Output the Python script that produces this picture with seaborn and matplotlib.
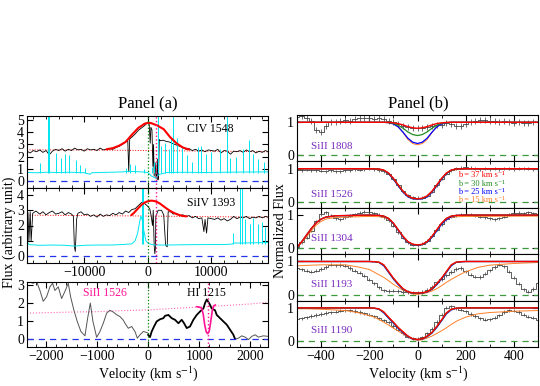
"""
Two-panel absorption line figure: (a) broad CIV / SiIV / HI spectra,
(b) SiII profiles with Voigt models for several b values.
"""
import numpy as np
import seaborn as sns
import matplotlib
matplotlib.use('Agg')
import matplotlib.pyplot as plt
from matplotlib.ticker import MultipleLocator

# ---------------- Panel (a) data ----------------
# CIV 1548 (top)
civ_v = [-19000, -18500, -18000, -17500, -17000, -16500, -16000, -15500, -15000, -14500,
         -14000, -13500, -13000, -12500, -12000, -11500, -11000, -10500, -10000, -9500,
         -9000, -8500, -8000, -7500, -7000, -6500, -6000, -5500, -5000, -4500,
         -4000, -3500, -3150, -3000, -2850, -2500, -2000, -1500, -1000, -500,
         -200, 200, 380, 480, 650, 800, 900, 1000, 1150, 1300,
         1400, 1500, 1600, 1700, 1800, 2000, 2400, 2900, 3400, 4000,
         4500, 5000, 5500, 6000, 6500, 7000, 7500, 8000, 8500, 9000,
         9500, 10000, 10500, 11000, 11500, 12000, 12500, 13000, 13500, 14000,
         14500, 15000, 15500, 16000, 16500, 17000, 17500, 18000, 18500, 18900]
civ_f = [2.45, 2.3, 2.5, 2.4, 2.55, 2.35, 2.5, 2.15, 2.45, 2.6,
         2.5, 2.65, 2.45, 2.6, 2.5, 2.7, 2.55, 2.6, 2.45, 2.65,
         2.55, 2.6, 2.5, 2.7, 2.55, 2.6, 2.65, 2.6, 2.75, 2.85,
         3.0, 3.2, 3.3, 0.75, 3.45, 3.6, 3.85, 4.15, 4.35, 4.55,
         4.7, 4.8, 3.1, 4.4, 4.2, 1.2, 3.0, 0.4, 1.5, 0.2,
         0.5, 1.8, 0.1, 0.6, 3.4, 3.3, 3.35, 3.25, 3.2, 3.05,
         2.95, 2.85, 2.75, 2.6, 2.65, 2.5, 2.6, 2.45, 2.55, 2.4,
         2.55, 2.5, 2.45, 2.6, 2.3, 2.5, 2.45, 2.2, 2.45, 2.4,
         2.5, 2.35, 2.55, 2.4, 2.5, 2.3, 2.45, 2.35, 2.5, 2.4]
civ_fit_v = [-6500, -5500, -4500, -3500, -2500, -1500, -500, 0, 500, 1500, 2500, 3500, 4500, 5500, 6500]
civ_fit_f = [2.6, 2.7, 2.9, 3.2, 3.8, 4.35, 4.7, 4.77, 4.75, 4.55, 4.25, 3.6, 3.1, 2.75, 2.58]
civ_cont_v = [-19000, -10000, 0, 10000, 18900]
civ_cont_f = [2.55, 2.55, 2.5, 2.45, 2.4]
civ_err_v = [-19000, -17500, -16000, -14000, -12000, -10000, -9400, -9100, -8800, -6000, -4000, -3000,
             -1000, 0, 600, 1200, 1800, 3000, 6000, 9000, 12000, 15000, 18900]
civ_err_f = [0.7, 0.68, 0.72, 0.7, 0.72, 0.68, 0.6, 0.55, 0.68, 0.72, 0.75, 0.8,
             0.75, 0.7, 0.4, 0.25, 0.55, 0.7, 0.72, 0.7, 0.72, 0.74, 0.75]
civ_spk_v = [-16900, -15650, -15500, -14500, -13600, -13050, -12450, -11350, -10700, -9900,
             -3400, -2800, -2050, -600, 600, 1000, 1650, 2150, 2700, 3400,
             3700, 4000, 4650, 5300, 6100, 7000, 7900, 8400, 9200, 10000,
             11300, 12500, 13000, 13900, 14900, 15950, 16600, 17300, 18200]
civ_spk_f = [1.5, 5.4, 5.4, 2.3, 1.9, 2.2, 2.1, 1.7, 1.3, 1.1,
             1.05, 1.4, 1.3, 1.0, 1.15, 1.6, 5.4, 2.9, 3.1, 2.6,
             3.5, 5.4, 3.5, 2.9, 2.1, 1.6, 2.8, 2.9, 2.2, 2.4,
             2.6, 5.4, 1.9, 2.0, 2.6, 3.4, 2.2, 1.8, 1.6]
civ_spk_base = 0.7

# SiIV 1393 (middle)
siv_v = [-19000, -18850, -18700, -18500, -18350, -18100, -17600, -17000, -16500, -16000,
         -15500, -15000, -14500, -14000, -13500, -13000, -12500, -12000, -11700, -11550,
         -11400, -11200, -11000, -10500, -10000, -9500, -9000, -8500, -8000, -7500,
         -7000, -6500, -6000, -5500, -5000, -4500, -4000, -3500, -3000, -2500,
         -2000, -1500, -1000, -700, -400, -100, 300, 500, 735, 850,
         1000, 1100, 1200, 1260, 1625, 2150, 2500, 2800, 3050, 3200,
         3600, 4000, 4500, 5000, 5500, 6000, 6500, 7000, 7500, 8000,
         8500, 8820, 9000, 9240, 9450, 10000, 10500, 11000, 11500, 12000,
         12500, 13000, 13500, 14000, 14500, 15000, 15500, 16000, 16500, 17000,
         17500, 18000, 18500, 18900]
siv_f = [2.7, 2.85, 1.0, 2.9, 0.95, 2.8, 2.95, 2.75, 2.9, 2.7,
         2.85, 2.95, 2.75, 2.8, 2.9, 2.7, 2.85, 2.75, 2.6, 0.6,
         0.3, 2.4, 2.8, 2.9, 2.7, 2.75, 2.6, 2.7, 2.55, 2.75,
         2.6, 2.7, 2.65, 2.8, 2.7, 2.85, 2.75, 2.95, 2.85, 3.05,
         3.1, 3.3, 3.5, 3.55, 3.4, 3.3, 3.1, 2.7, 2.0, 3.0,
         0.7, 0.15, 0.5, 2.6, 3.0, 3.0, 2.7, 0.7, 0.6, 2.9,
         2.9, 2.75, 2.8, 2.65, 2.7, 2.6, 2.65, 2.5, 2.6, 2.45,
         2.5, 1.6, 2.4, 1.5, 2.5, 2.45, 2.4, 2.5, 2.35, 2.45,
         2.3, 2.4, 2.6, 2.45, 2.55, 2.5, 2.6, 2.45, 2.55, 2.5,
         2.6, 2.5, 2.6, 2.55]
siv_fit_v = [-2600, -2200, -1800, -1400, -1000, -600, -200, 200, 580, 980,
             1365, 1900, 2415, 2900, 3465, 4000, 4515, 5000, 5565, 6100]
siv_fit_f = [2.68, 2.82, 3.0, 3.18, 3.35, 3.48, 3.56, 3.61, 3.63, 3.61,
             3.56, 3.44, 3.28, 3.13, 2.97, 2.85, 2.75, 2.68, 2.62, 2.6]
siv_cont_v = [-19000, -10000, 0, 10000, 18900]
siv_cont_f = [2.68, 2.65, 2.62, 2.58, 2.55]
siv_err_v = [-19000, -18700, -17000, -15000, -13000, -11500, -10000, -8000, -6000, -4000,
             -2500, -2000, -1600, -1300, -1100, -900, -600, -300, 0, 400,
             1000, 3000, 6000, 9000, 12000, 13200, 13600, 15000, 17000, 18900]
siv_err_f = [0.95, 0.75, 0.7, 0.72, 0.7, 0.65, 0.7, 0.72, 0.72, 0.75,
             0.8, 1.0, 1.5, 2.2, 2.6, 2.4, 1.6, 1.0, 0.85, 0.78,
             0.72, 0.72, 0.74, 0.75, 0.75, 0.78, 0.85, 0.85, 0.87, 0.88]
siv_spk_v = [-18950, -850, -750, 13400, 14500, 14750, 15280, 16060, 16600, 17300, 17900, 18500]
siv_spk_f = [1.0, 4.5, 4.5, 1.5, 4.5, 4.5, 2.4, 2.1, 2.5, 2.1, 2.2, 1.9]
siv_spk_base = 0.8

# HI 1215 (bottom), three pieces
hi_v_left = [-2346, -2248, -2183, -2117, -2052, -1986, -1921, -1869, -1823, -1758,
             -1692, -1627, -1562, -1516, -1451, -1386, -1314, -1235, -1180, -1130,
             -1080, -1006, -941, -876, -810, -745, -680, -614, -549, -484,
             -451, -386, -320, -255, -209, -157, -92, -26, 0]
hi_f_left = [3.2, 3.1, 3.2, 2.7, 2.1, 2.35, 2.9, 3.1, 2.7, 2.9,
             2.25, 2.65, 3.1, 2.35, 1.6, 0.98, 0.42, 0.18, 1.2, 2.0,
             1.0, 0.1, 0.42, 0.88, 1.44, 1.6, 1.5, 1.35, 1.25, 1.05,
             0.88, 0.6, 0.7, 0.42, 0.05, 0.24, 0.42, 0.37, 0.33]
hi_v_mid = [0, 39, 72, 118, 170, 235, 300, 333, 399, 464,
            529, 595, 660, 706, 758, 823, 888, 954, 1019, 1085,
            1117, 1150, 1196, 1248, 1313, 1346, 1411, 1476, 1542, 1607,
            1672, 1705]
hi_f_mid = [0.24, 0.11, 0.42, 0.7, 0.98, 1.1, 1.16, 1.29, 1.34, 1.16,
            1.07, 0.88, 1.07, 0.88, 0.61, 0.7, 1.07, 1.34, 1.53, 1.7,
            2.0, 2.2, 2.0, 1.7, 1.6, 1.34, 1.16, 0.98, 0.8, 0.52,
            0.24, 0.0]
hi_v_right = [1705, 1770, 1836, 1901, 1966, 2032, 2097, 2162, 2260, 2358]
hi_f_right = [0.0, 0.05, 0.18, 0.11, -0.03, 0.15, 0.24, 0.11, 0.18, 0.15]
hi_cont_v = [-2370, -1500, -1000, -500, 0, 500, 1000, 1500, 2000, 2350]
hi_cont_f = [1.44, 1.5, 1.52, 1.58, 1.62, 1.7, 1.78, 1.86, 1.95, 2.05]
si_fit_v = [950, 1000, 1050, 1080, 1110, 1140, 1170, 1200, 1230, 1260, 1290, 1320]
si_fit_f = [1.8, 1.78, 1.72, 1.4, 0.8, 0.4, 0.3, 0.45, 1.0, 1.6, 1.85, 1.9]

top_ticks = [-10000, 0, 10000]
low_ticks = [-2000, -1000, 0, 1000, 2000]

# ---------------- Panel (b) data ----------------
vel_b = np.arange(-500, 501, 20)
si1808 = [1.16, 1.19, 1.14, 1.05, 0.77, 0.71, 0.9, 1.0, 1.01, 1.03,
          1.07, 1.05, 1.1, 1.12, 1.14, 1.14, 1.11, 1.12, 1.09, 1.05,
          1.01, 0.95, 0.9, 0.87, 0.84, 0.82, 0.84, 0.87, 0.9, 0.93,
          0.93, 0.98, 0.95, 0.9, 0.88, 0.95, 1.01, 1.05, 1.07, 1.07,
          1.05, 1.03, 1.01, 1.03, 1.01, 0.99, 1.01, 0.98, 0.99, 1.01, 1.01]
si1526 = [0.97, 0.96, 0.97, 0.95, 0.96, 0.94, 0.93, 0.95, 0.92, 0.93,
          0.95, 0.96, 0.98, 0.97, 0.99, 1.0, 0.98, 0.96, 0.93, 0.84,
          0.7, 0.5, 0.32, 0.2, 0.14, 0.12, 0.13, 0.18, 0.3, 0.5,
          0.7, 0.85, 0.95, 1.02, 1.03, 1.05, 1.03, 1.0, 0.99, 1.0,
          0.98, 1.0, 0.99, 1.01, 1.0, 0.99, 1.0, 1.01, 1.0, 0.99, 1.0]
si1304 = [0.03, 0.18, 0.31, 0.53, 0.81, 1.03, 1.08, 0.98, 0.91, 0.88,
          0.93, 0.98, 1.03, 1.07, 1.1, 1.09, 1.05, 1.01, 0.93, 0.85,
          0.68, 0.48, 0.31, 0.18, 0.11, 0.09, 0.13, 0.23, 0.38, 0.55,
          0.73, 0.88, 0.95, 0.99, 1.01, 1.03, 1.01, 0.98, 0.95, 0.93,
          0.9, 0.88, 0.91, 0.95, 1.01, 1.05, 1.07, 1.05, 1.08, 1.05, 1.03]
si1193 = [0.8, 0.76, 0.72, 0.69, 0.72, 0.77, 0.83, 0.9, 0.88, 0.89,
          0.87, 0.8, 0.72, 0.66, 0.57, 0.45, 0.34, 0.22, 0.13, 0.11,
          0.12, 0.11, 0.08, 0.08, 0.06, 0.05, 0.08, 0.14, 0.23, 0.37,
          0.47, 0.58, 0.68, 0.77, 0.8, 0.7, 0.6, 0.54, 0.53, 0.63,
          0.73, 0.83, 0.9, 0.85, 0.69, 0.51, 0.33, 0.16, 0.09, 0.17, 0.36]
si1190 = [0.66, 0.68, 0.72, 0.76, 0.79, 0.82, 0.85, 0.87, 0.89, 0.92,
          0.93, 0.93, 0.91, 0.88, 0.84, 0.8, 0.75, 0.68, 0.62, 0.56,
          0.45, 0.34, 0.23, 0.13, 0.08, 0.07, 0.11, 0.23, 0.37, 0.57,
          0.8, 1.01, 1.05, 0.99, 0.95, 0.9, 0.82, 0.76, 0.69, 0.64,
          0.66, 0.7, 0.78, 0.88, 0.93, 0.92, 0.88, 0.8, 0.74, 0.7, 0.64]
err_b = [0.09, 0.045, 0.045, 0.05, 0.05]

grid_a = [-500, -200, -160, -140, -120, -100, -80, -60, -40, -20, 0, 20, 40, 60, 80, 100, 120, 140, 160, 200, 500]
grid_c = [-500, -480, -460, -440, -420, -400, -380, -340, -200, -160, -140, -120, -100, -80,
          -60, -40, -20, 0, 20, 40, 60, 80, 100, 120, 140, 160, 200, 500]
grid_e = [-500, -400, -300, -250, -200, -180, -160, -140, -120, -100, -80, -60, -40, -20, 0,
          20, 40, 60, 80, 100, 120, 140, 160, 180, 200, 250, 300, 400, 500]

m1808_r = [1, 1, 1, 1, 0.995, 0.985, 0.96, 0.92, 0.87, 0.835, 0.82, 0.835, 0.87, 0.92, 0.96, 0.985, 0.995, 1, 1, 1, 1]
m1808_g = [1, 1, 1, 1, 0.99, 0.97, 0.91, 0.82, 0.71, 0.63, 0.6, 0.63, 0.71, 0.82, 0.91, 0.97, 0.99, 1, 1, 1, 1]
m1808_b = [1, 1, 1, 1, 0.99, 0.95, 0.86, 0.7, 0.52, 0.4, 0.36, 0.4, 0.52, 0.7, 0.86, 0.95, 0.99, 1, 1, 1, 1]
m1808_o = [1, 1, 1, 1, 0.99, 0.96, 0.87, 0.69, 0.48, 0.36, 0.32, 0.36, 0.48, 0.69, 0.87, 0.96, 0.99, 1, 1, 1, 1]

m1526_r = [1, 1, 0.99, 0.96, 0.87, 0.71, 0.51, 0.32, 0.18, 0.11, 0.09, 0.11, 0.18, 0.32, 0.51, 0.71, 0.87, 0.96, 0.99, 1, 1]
m1526_g = [1, 1, 0.99, 0.95, 0.86, 0.7, 0.5, 0.31, 0.17, 0.1, 0.09, 0.1, 0.17, 0.31, 0.5, 0.7, 0.86, 0.95, 0.99, 1, 1]
m1526_b = [1, 1, 0.985, 0.95, 0.85, 0.68, 0.48, 0.29, 0.15, 0.09, 0.08, 0.09, 0.15, 0.29, 0.48, 0.68, 0.85, 0.95, 0.985, 1, 1]
m1526_o = [0.985, 0.985, 0.97, 0.94, 0.85, 0.69, 0.49, 0.3, 0.16, 0.1, 0.09, 0.1, 0.16, 0.3, 0.49, 0.69, 0.85, 0.94, 0.97, 0.985, 0.99]

m1304_r = [0.03, 0.2, 0.4, 0.6, 0.77, 0.88, 0.94, 0.98, 1.0, 0.99, 0.97, 0.9, 0.76, 0.56,
           0.36, 0.2, 0.12, 0.1, 0.12, 0.2, 0.36, 0.56, 0.76, 0.9, 0.97, 0.99, 1.0, 1.0]
m1304_g = [0.03, 0.2, 0.4, 0.6, 0.77, 0.88, 0.94, 0.98, 1.0, 0.99, 0.97, 0.9, 0.75, 0.55,
           0.35, 0.19, 0.11, 0.1, 0.11, 0.19, 0.35, 0.55, 0.75, 0.9, 0.97, 0.99, 1.0, 1.0]
m1304_b = [0.03, 0.2, 0.4, 0.6, 0.77, 0.88, 0.94, 0.98, 1.0, 0.99, 0.96, 0.89, 0.74, 0.54,
           0.34, 0.18, 0.11, 0.09, 0.11, 0.18, 0.33, 0.52, 0.72, 0.87, 0.95, 0.99, 1.0, 1.0]
m1304_o = [0.04, 0.17, 0.35, 0.53, 0.7, 0.81, 0.88, 0.93, 0.96, 0.95, 0.93, 0.87, 0.74, 0.55,
           0.36, 0.2, 0.12, 0.1, 0.12, 0.2, 0.36, 0.55, 0.74, 0.87, 0.93, 0.95, 0.96, 0.97]

m1193_r = [1, 1, 1, 1, 1, 0.995, 0.98, 0.9, 0.7, 0.5, 0.33, 0.18, 0.09, 0.055, 0.05,
           0.055, 0.09, 0.18, 0.33, 0.5, 0.7, 0.9, 0.98, 0.995, 1, 1, 1, 1, 1]
m1193_g = [1, 1, 1, 1, 1, 0.995, 0.975, 0.89, 0.69, 0.49, 0.32, 0.17, 0.085, 0.05, 0.045,
           0.05, 0.085, 0.17, 0.32, 0.49, 0.69, 0.89, 0.975, 0.995, 1, 1, 1, 1, 1]
m1193_b = [1, 1, 1, 1, 1, 0.99, 0.97, 0.87, 0.67, 0.47, 0.3, 0.16, 0.08, 0.045, 0.04,
           0.045, 0.08, 0.16, 0.3, 0.47, 0.67, 0.87, 0.97, 0.99, 1, 1, 1, 1, 1]
m1193_o = [0.87, 0.9, 0.9, 0.84, 0.76, 0.68, 0.6, 0.52, 0.42, 0.31, 0.22, 0.13, 0.07, 0.02, 0.01,
           0.03, 0.06, 0.11, 0.18, 0.27, 0.37, 0.46, 0.54, 0.62, 0.69, 0.82, 0.89, 0.94, 0.97]

m1190_r = [1, 1, 1, 1, 1, 0.995, 0.97, 0.88, 0.72, 0.57, 0.41, 0.28, 0.15, 0.07, 0.05,
           0.07, 0.15, 0.26, 0.44, 0.64, 0.85, 0.96, 0.99, 1, 1, 1, 1, 1, 1]
m1190_g = [1, 1, 1, 1, 1, 0.99, 0.965, 0.87, 0.71, 0.56, 0.4, 0.27, 0.14, 0.065, 0.045,
           0.065, 0.14, 0.25, 0.43, 0.63, 0.84, 0.955, 0.99, 1, 1, 1, 1, 1, 1]
m1190_b = [1, 1, 1, 1, 1, 0.99, 0.96, 0.85, 0.69, 0.54, 0.38, 0.25, 0.13, 0.06, 0.04,
           0.06, 0.13, 0.24, 0.41, 0.61, 0.82, 0.94, 0.985, 1, 1, 1, 1, 1, 1]
m1190_o = [0.98, 0.96, 0.92, 0.86, 0.77, 0.72, 0.65, 0.57, 0.48, 0.39, 0.3, 0.21, 0.12, 0.05, 0.02,
           0.04, 0.09, 0.15, 0.23, 0.31, 0.4, 0.5, 0.59, 0.66, 0.72, 0.82, 0.86, 0.9, 0.92]

line_names = ['SiII 1808', 'SiII 1526', 'SiII 1304', 'SiII 1193', 'SiII 1190']
name_y = [0.26, 0.22, 0.3, 0.32, 0.31]
b_labels = ['b = 37 km s\u207b\u00b9', 'b = 30 km s\u207b\u00b9',
            'b = 25 km s\u207b\u00b9', 'b = 15 km s\u207b\u00b9']
b_label_y = [0.8, 0.55, 0.3, 0.05]

RED, GREEN, BLUE, ORANGE = '#ff0000', '#228b22', '#0000ff', '#ff7f27'
CYAN = '#00e5ee'
PINK = '#ff1493'
PURPLE = '#7b2cbf'
KMS = r'km s$^{-1}$'

W, H = 540, 386


def rect(x0, y0, x1, y1):
    return [x0 / W, 1 - y1 / H, (x1 - x0) / W, (y1 - y0) / H]


def line(ax, x, y, **kw):
    sns.lineplot(x=x, y=y, ax=ax, estimator=None, sort=False, **kw)


def style(ax):
    ax.tick_params(which='both', direction='in', top=True, right=True, labelsize=10, pad=2)
    ax.tick_params(which='major', length=4, width=0.8)
    ax.tick_params(which='minor', length=2, width=0.6)
    ax.set_xlabel('')
    ax.set_ylabel('')


def main():
    sns.set_theme(style='ticks', rc={'axes.edgecolor': 'black', 'xtick.color': 'black',
                                     'ytick.color': 'black', 'text.color': 'black',
                                     'axes.linewidth': 0.8})
    plt.rcParams['font.family'] = ['Liberation Serif', 'DejaVu Serif']
    plt.rcParams['mathtext.fontset'] = 'stix'

    fig = plt.figure(figsize=(5.4, 3.86), dpi=100)

    # ---- Panel (a) ----
    ax1 = fig.add_axes(rect(27, 116, 268, 188))
    ax2 = fig.add_axes(rect(27, 188, 268, 263))
    ax3 = fig.add_axes(rect(27, 282, 268, 347))

    for ax, v, f, fv, ff, cv, cf, ev, ef, sv, sf, sb, ylim, name, ny in [
            (ax1, civ_v, civ_f, civ_fit_v, civ_fit_f, civ_cont_v, civ_cont_f,
             civ_err_v, civ_err_f, civ_spk_v, civ_spk_f, civ_spk_base, (-0.57, 5.33), 'CIV 1548', 4.3),
            (ax2, siv_v, siv_f, siv_fit_v, siv_fit_f, siv_cont_v, siv_cont_f,
             siv_err_v, siv_err_f, siv_spk_v, siv_spk_f, siv_spk_base, (-0.46, 4.46), 'SiIV 1393', 3.5)]:
        line(ax, cv, cf, color=RED, linewidth=0.7, ls=':')
        line(ax, v, f, color='black', linewidth=0.6)
        line(ax, ev, ef, color=CYAN, linewidth=0.7)
        ax.vlines(sv, sb, sf, color=CYAN, linewidth=0.7)
        line(ax, fv, ff, color=RED, linewidth=1.5)
        ax.axhline(0, color='#2233ee', ls=(0, (5, 4)), linewidth=0.9)
        ax.axvline(0, color='#008000', ls=':', linewidth=0.9)
        ax.axvline(1300, color=PINK, ls=':', linewidth=1.0)
        ax.set_xlim(-19000, 18900)
        ax.set_ylim(*ylim)
        ax.xaxis.set_major_locator(MultipleLocator(10000))
        ax.xaxis.set_minor_locator(MultipleLocator(2000))
        ax.yaxis.set_major_locator(MultipleLocator(1))
        ax.text(9900, ny, name, fontsize=8.5, ha='center', va='center')
        style(ax)
    ax1.tick_params(labelbottom=False)
    ax2.set_xticks(top_ticks)

    line(ax3, hi_cont_v, hi_cont_f, color='#ff69b4', linewidth=0.8, ls=':')
    line(ax3, hi_v_left, hi_f_left, color='#555555', linewidth=0.7)
    line(ax3, hi_v_right, hi_f_right, color='#555555', linewidth=0.7)
    line(ax3, hi_v_mid, hi_f_mid, color='black', linewidth=1.3)
    line(ax3, si_fit_v, si_fit_f, color=PINK, linewidth=1.2)
    ax3.axhline(0, color='#2233ee', ls=(0, (5, 4)), linewidth=0.9)
    ax3.axvline(0, color='#008000', ls=':', linewidth=0.9)
    ax3.axvline(1170, color=PINK, ls=':', linewidth=1.0)
    ax3.set_xlim(-2370, 2350)
    ax3.set_ylim(-0.44, 3.17)
    ax3.set_xticks(low_ticks)
    ax3.xaxis.set_minor_locator(MultipleLocator(200))
    ax3.yaxis.set_major_locator(MultipleLocator(1))
    ax3.text(-850, 2.55, 'SiII 1526', color=PINK, fontsize=8.5, ha='center', va='center')
    ax3.text(1150, 2.55, 'HI 1215', fontsize=8.5, ha='center', va='center')
    style(ax3)

    # ---- Panel (b) ----
    edges = [115, 161.4, 207.8, 254.2, 300.6, 347]
    datasets = [si1808, si1526, si1304, si1193, si1190]
    models = [(grid_a, m1808_r, m1808_g, m1808_b, m1808_o),
              (grid_a, m1526_r, m1526_g, m1526_b, m1526_o),
              (grid_c, m1304_r, m1304_g, m1304_b, m1304_o),
              (grid_e, m1193_r, m1193_g, m1193_b, m1193_o),
              (grid_e, m1190_r, m1190_g, m1190_b, m1190_o)]
    axes_b = []
    for i in range(5):
        ax = fig.add_axes(rect(297, edges[i], 538, edges[i + 1]))
        axes_b.append(ax)
        ax.axhline(0, color='#3c9a3c', ls=(0, (5, 4)), linewidth=0.9)
        ax.errorbar(vel_b, datasets[i], yerr=err_b[i], fmt='none', ecolor='#555555',
                    elinewidth=0.6, capsize=0)
        line(ax, vel_b, datasets[i], color='#444444', linewidth=0.6, drawstyle='steps-mid')
        g, mr, mg, mb, mo = models[i]
        line(ax, g, mo, color=ORANGE, linewidth=0.7)
        line(ax, g, mb, color=BLUE, linewidth=0.9)
        line(ax, g, mg, color=GREEN, linewidth=0.9)
        line(ax, g, mr, color=RED, linewidth=1.0)
        ax.set_xlim(-500, 500)
        ax.set_ylim(-0.18, 1.22)
        ax.set_yticks([0, 1])
        ax.xaxis.set_major_locator(MultipleLocator(200))
        ax.xaxis.set_minor_locator(MultipleLocator(100))
        ax.text(-440, name_y[i], line_names[i], color=PURPLE, fontsize=8, ha='left', va='center')
        style(ax)
        if i < 4:
            ax.tick_params(labelbottom=False)

    for lab, yy, col in zip(b_labels, b_label_y, [RED, GREEN, BLUE, ORANGE]):
        axes_b[1].text(170, yy, lab, color=col, fontsize=6, ha='left', va='center')

    # titles and axis labels
    fig.text(148 / W, 1 - 103 / H, 'Panel (a)', fontsize=12, ha='center', va='center')
    fig.text(418 / W, 1 - 103 / H, 'Panel (b)', fontsize=12, ha='center', va='center')
    fig.text(9 / W, 1 - 232 / H, 'Flux (arbitrary unit)', fontsize=10, rotation=90,
             ha='center', va='center')
    fig.text(281 / W, 1 - 231 / H, 'Normalized Flux', fontsize=10, rotation=90,
             ha='center', va='center')
    fig.text(148 / W, 1 - 374 / H, 'Velocity (' + KMS + ')', fontsize=10, ha='center', va='center')
    fig.text(418 / W, 1 - 374 / H, 'Velocity (' + KMS + ')', fontsize=10, ha='center', va='center')

    fig.savefig('out.png', dpi=100)


if __name__ == '__main__':
    main()
